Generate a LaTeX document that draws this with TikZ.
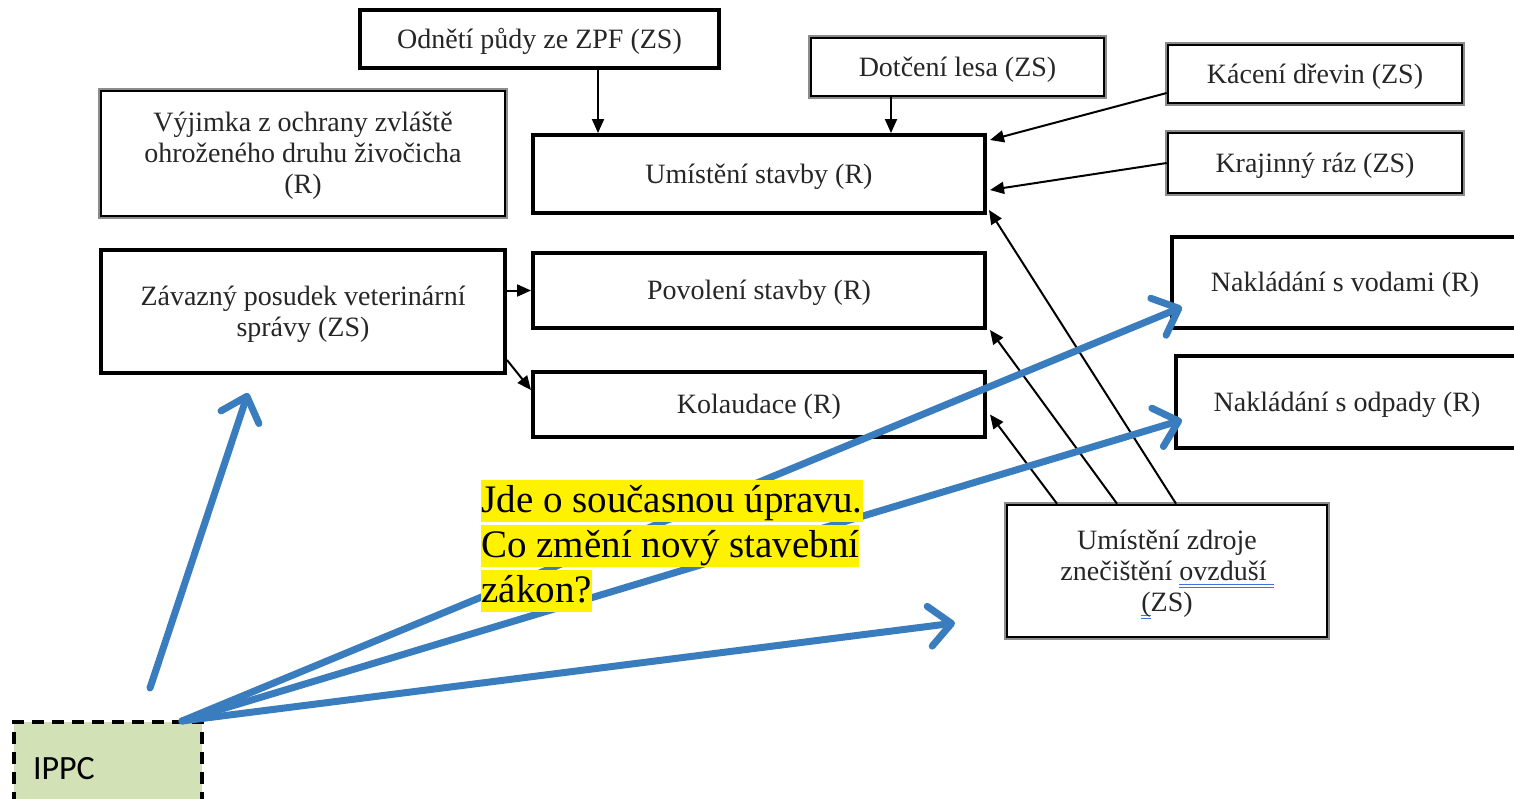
\documentclass[tikz,border=0pt]{standalone}
\usepackage{fontspec}
\setmainfont{Liberation Serif}
\newfontfamily\calibrifont{Carlito}
\usetikzlibrary{arrows.meta}
\definecolor{arrowblue}{RGB}{58,125,190}
\definecolor{ippcgreen}{RGB}{211,226,182}
\definecolor{boxtext}{RGB}{38,38,38}
\definecolor{spellblue}{RGB}{70,110,230}
\newcommand\spellmark[1]{\setbox0\hbox{#1}\rlap{\color{spellblue}\raisebox{-2.6pt}{\rule{\wd0}{0.5pt}}}\rlap{\color{spellblue}\raisebox{-3.8pt}{\rule{\wd0}{0.5pt}}}\box0}
\begin{document}
\begin{tikzpicture}[x=0.5pt,y=-0.5pt,
  tbox/.style={draw=black, line width=2pt, fill=white, text=boxtext,
    font=\fontsize{14}{15.5}\selectfont, align=center, inner sep=2pt, text depth=0.5pt},
  dbox/.style={tbox, line width=1.3pt, preaction={draw=black!45, line width=3.2pt}},
  conn/.style={line width=1pt, -{Triangle[length=7pt,width=6pt]}},
  ipparrow/.style={draw=arrowblue, line width=3.5pt, line cap=round,
    -{Straight Barb[length=11pt,width=20pt,line cap=round,line join=round]}},
  hltext/.style={fill=yellow, text=black, font=\fontsize{19.5}{22.5}\selectfont,
    anchor=west, inner xsep=0pt, inner ysep=0pt, text height=16pt, text depth=5pt},
  ippcbox/.style={draw=black, line width=2pt, dash pattern=on 6pt off 4pt,
    fill=ippcgreen, font=\calibrifont\fontsize{17}{20}\selectfont, align=left}
]
\useasboundingbox (0,0) rectangle (1514,798);
\fill[white] (0,0) rectangle (1514,798);

% boxes
\node[tbox, minimum width=179.5pt, minimum height=29pt] (odn) at (539.5,39) {Odnětí půdy ze ZPF (ZS)};
\node[dbox, minimum width=146.5pt, minimum height=29pt] (dot) at (957.5,67) {Dotčení lesa (ZS)};
\node[dbox, minimum width=147pt, minimum height=29pt] (kac) at (1315,74) {Kácení dřevin (ZS)};
\node[dbox, minimum width=147pt, minimum height=30pt] (kraj) at (1315,163) {Krajinný ráz (ZS)};
\node[dbox, minimum width=202pt, minimum height=62.5pt] (vyj) at (303,153.5) {Výjimka z ochrany zvláště\\ohroženého druhu živočicha\\(R)};
\node[tbox, minimum width=226pt, minimum height=39pt] (um) at (759,174) {Umístění stavby (R)};
\node[tbox, minimum width=202pt, minimum height=61.5pt] (zav) at (303,311.5) {Závazný posudek veterinární\\správy (ZS)};
\node[tbox, minimum width=226pt, minimum height=37.5pt] (pov) at (759,290.5) {Povolení stavby (R)};
\node[tbox, minimum width=226pt, minimum height=32.5pt] (kol) at (759,404.5) {Kolaudace (R)};
\node[tbox, minimum width=173pt, minimum height=45.5pt] (vod) at (1345,282.5) {Nakládání s vodami (R)};
\node[tbox, minimum width=171pt, minimum height=46pt] (odp) at (1347,402) {Nakládání s odpady (R)};
\node[dbox, minimum width=160pt, minimum height=66pt] (zdr) at (1167,571) {Umístění zdroje\\znečištění \spellmark{ovzduší\ }\\\spellmark{(}ZS)};
\node[ippcbox, minimum width=94pt, minimum height=47pt, text width=75pt] (ippc) at (108,769) {IPPC};

% black connectors
\coordinate (xodn) at (598,0);
\coordinate (xdot) at (891,0);
\draw[conn] (odn.south -| xodn) -- (um.north -| xodn);
\draw[conn] (dot.south -| xdot) -- (um.north -| xdot);
\draw[conn] ([yshift=-9.5pt]kac.west) -- ([yshift=-3.5pt,xshift=1.5pt]um.north east);
\draw[conn] (kraj.west) -- ([yshift=-8pt,xshift=1.5pt]um.east);
\draw[conn] ([xshift=4.5pt]zdr.north) -- ([yshift=2.5pt,xshift=1pt]um.south east);
\draw[conn] ([xshift=-25pt]zdr.north) -- ([xshift=1.5pt]pov.south east);
\draw[conn] ([xshift=-55pt]zdr.north) -- ([yshift=-5pt,xshift=1.5pt]kol.east);
\draw[conn] (pov.west -| zav.east) -- (pov.west);
\draw[conn] ([yshift=7.5pt]zav.south east) -- ([yshift=7.25pt]kol.west);

% blue arrows
\coordinate (b1s) at (150,688);
\coordinate (b1e) at (248,393);
\coordinate (bs) at (182,721);
\coordinate (t2) at (1182,307);
\coordinate (t3) at (1182,420);
\coordinate (t4) at (955,623);
\draw[ipparrow] (b1s) -- (b1e);
\draw[ipparrow] (bs) -- (t2);
\draw[ipparrow] (bs) -- (t3);
\draw[ipparrow] (bs) -- (t4);

% highlighted comment
\node[hltext] (note1) at (481,501) {Jde o současnou úpravu.\hspace{4pt}};
\node[hltext] (note2) at (481,546) {Co změní nový stavební\hspace{4pt}};
\node[hltext] (note3) at (481,591) {zákon?};
\end{tikzpicture}
\end{document}
